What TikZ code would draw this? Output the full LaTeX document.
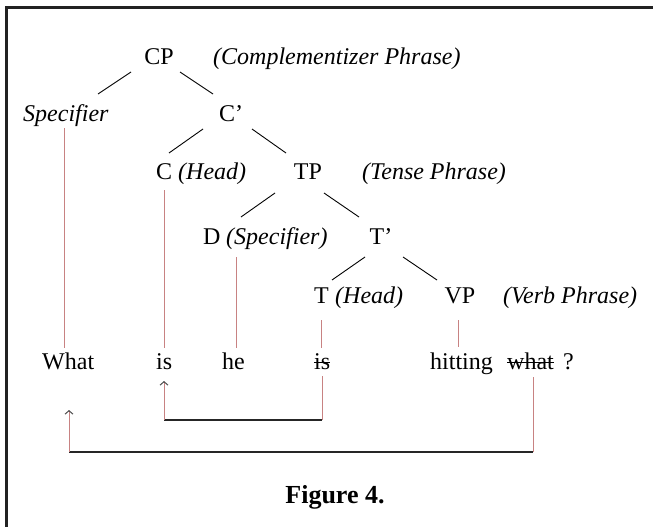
\documentclass[tikz,border=0pt]{standalone}
\usepackage{fontspec}
\setmainfont{Liberation Serif}
\usetikzlibrary{arrows.meta}
\definecolor{rose}{RGB}{200,130,130}
\definecolor{framecol}{RGB}{34,34,34}
\begin{document}
\begin{tikzpicture}[x=1pt,y=-1pt,
  lbl/.style={inner sep=0pt,font=\fontsize{24}{28}\selectfont},
  note/.style={inner sep=0pt,font=\fontsize{24}{28}\selectfont\itshape},
  branch/.style={line width=0.9pt,black},
  link/.style={line width=1pt,rose},
  movebar/.style={line width=1.4pt,black!85},
  strike/.style={line width=1.2pt,black},
  tipup/.style={-{Straight Barb[length=3.5pt,width=8pt,color=black!70]}}
]
\useasboundingbox (0,0) rectangle (653,527);
\draw[line width=2.5pt,framecol] (6.5,527) -- (6.5,7.5) -- (653,7.5);

% tree labels
\node[lbl,anchor=base] (CP) at (159,65) {CP};
\node[note,anchor=base west] (CPn) at (213,65) {(Complementizer Phrase)};
\node[note,anchor=base west] (Spec) at (23,121) {Specifier};
\node[lbl,anchor=base] (Cb) at (231,121) {C’};
\node[lbl,anchor=base west] (C) at (156,179) {C};
\node[note,anchor=base west] (Cn) at (178,179) {(Head)};
\node[lbl,anchor=base] (TP) at (308,179) {TP};
\node[note,anchor=base west] (TPn) at (362,179) {(Tense Phrase)};
\node[lbl,anchor=base west] (D) at (203,244) {D};
\node[note,anchor=base west] (Dn) at (226,244) {(Specifier)};
\node[lbl,anchor=base] (Tb) at (381,244) {T’};
\node[lbl,anchor=base west] (T) at (314,303) {T};
\node[note,anchor=base west] (Tn) at (335,303) {(Head)};
\node[lbl,anchor=base] (VP) at (460,303) {VP};
\node[note,anchor=base west] (VPn) at (503,303) {(Verb Phrase)};

% words
\node[lbl,anchor=base west] (w1) at (42,369) {What};
\node[lbl,anchor=base west] (w2) at (156,369) {is};
\node[lbl,anchor=base west] (w3) at (222,369) {he};
\node[lbl,anchor=base west] (w4) at (314,369) {is};
\node[lbl,anchor=base west] (w5) at (430,369) {hitting};
\node[lbl,anchor=base west] (w6) at (507,369) {what};
\node[lbl,anchor=base west] (w7) at (563,369) {?};
\draw[strike] ([shift={(0,-6.5)}]w4.base west) -- ([shift={(0,-6.5)}]w4.base east);
\draw[strike] ([shift={(0,-6.5)}]w6.base west) -- ([shift={(0,-6.5)}]w6.base east);

\node[inner sep=0pt,font=\fontsize{26}{30}\selectfont\bfseries,anchor=base] (fig) at (335,503) {Figure 4.};

% branches
\draw[branch] ([shift={(-28,7)}]CP.base) -- ([shift={(75,-27)}]Spec.base west);
\draw[branch] ([shift={(21,7)}]CP.base) -- ([shift={(-18,-27)}]Cb.base);
\draw[branch] ([shift={(-28,8)}]Cb.base) -- ([shift={(13,-26)}]C.base west);
\draw[branch] ([shift={(21,8)}]Cb.base) -- ([shift={(-22,-26)}]TP.base);
\draw[branch] ([shift={(-33,14)}]TP.base) -- ([shift={(38,-27)}]D.base west);
\draw[branch] ([shift={(16,14)}]TP.base) -- ([shift={(-22,-27)}]Tb.base);
\draw[branch] ([shift={(-16,13)}]Tb.base) -- ([shift={(18,-23)}]T.base west);
\draw[branch] ([shift={(22,13)}]Tb.base) -- ([shift={(-23,-23)}]VP.base);

% links to words
\draw[link] ([shift={(41,7)}]Spec.base west) -- ([shift={(22,-21)}]w1.base west);
\draw[link] ([shift={(8,11)}]C.base west) -- ([shift={(8,-21)}]w2.base west);
\draw[link] ([shift={(33,13)}]D.base west) -- ([shift={(14,-21)}]w3.base west);
\draw[link] ([shift={(7,17)}]T.base west) -- ([shift={(7,-21)}]w4.base west);
\draw[link] ([shift={(-2,17)}]VP.base) -- ([shift={(28,-22)}]w5.base west);

% movement 1: is -> is
\coordinate (m1a) at (322,420);
\coordinate (m1b) at (164,420);
\draw[link] ([shift={(8,7)}]w4.base west) -- (m1a);
\draw[movebar] (m1a) -- (m1b);
\draw[link,tipup] (m1b) -- ([shift={(8,12)}]w2.base west);

% movement 2: what -> What
\coordinate (m2a) at (533,452);
\coordinate (m2b) at (69,452);
\draw[link] ([shift={(26,8)}]w6.base west) -- (m2a);
\draw[movebar] (m2a) -- (m2b);
\draw[link,tipup] (m2b) -- ([shift={(27,41)}]w1.base west);
\end{tikzpicture}
\end{document}
